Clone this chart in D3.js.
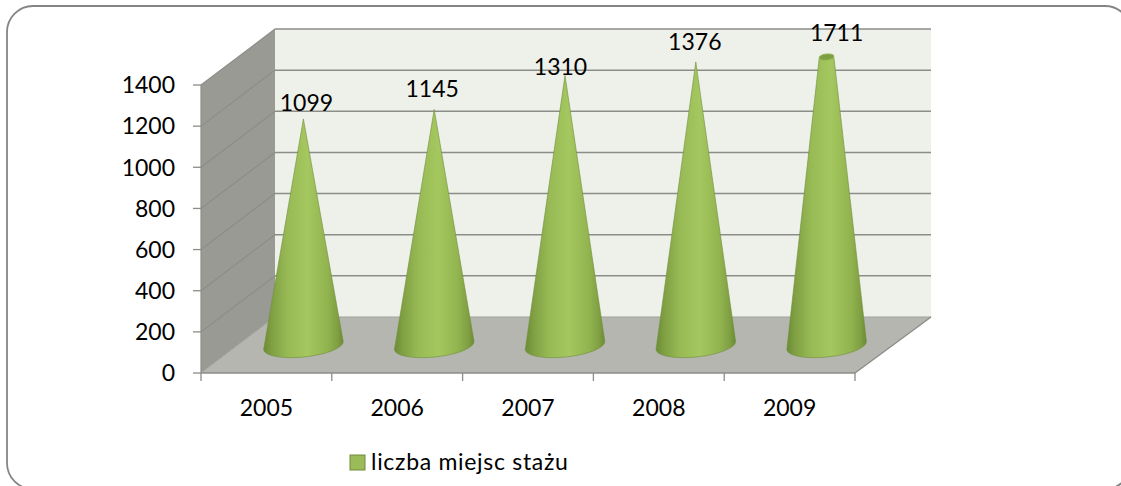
<!DOCTYPE html>
<html><head><meta charset="utf-8">
<script src="https://cdn.jsdelivr.net/npm/d3@7/dist/d3.min.js"></script>
<style>html,body{margin:0;padding:0;background:#fff;overflow:hidden}svg{display:block}text{font-family:Lato,"Open Sans",sans-serif;fill:#000}</style>
</head><body><svg id="c" width="1121" height="486"></svg>
<script>
const categories = ["2005","2006","2007","2008","2009"];
const values = [1099,1145,1310,1376,1711];
const yTicks = [0,200,400,600,800,1000,1200,1400];
const seriesName = "liczba miejsc stażu";

const svg = d3.select("#c");
const fs=23;
const plotLeft=201,plotRight=855,plotBottom=373,plotTop=85,dx=74,dy=-56;
const x=d3.scaleBand().domain(categories).range([plotLeft,plotRight]);
const y=d3.scaleLinear().domain([0,1400]).range([plotBottom,plotTop]);
const wallC="#eef0ea",sideC="#989a93",floorC="#b4b6af",lineC="#8c8d88";
const backL=plotLeft+dx,backR=931;
const defs=svg.append("defs");
const g=defs.append("linearGradient").attr("id","cone").attr("x1",0).attr("x2",1).attr("y1",0).attr("y2",0);
[[0,"#6c8c36"],[.1,"#7f9f42"],[.3,"#98ba55"],[.55,"#a4c75f"],[.8,"#92b44f"],[.93,"#7f9f42"],[1,"#6c8c36"]].forEach(s=>g.append("stop").attr("offset",s[0]).attr("stop-color",s[1]));

svg.append("rect").attr("x",7).attr("y",6).attr("width",1124).attr("height",483).attr("rx",26).attr("fill","#fff").attr("stroke","#858585").attr("stroke-width",1.8);

const poly=(pts,f)=>svg.append("polygon").attr("points",pts.map(p=>p.join(",")).join(" ")).attr("fill",f);
poly([[backL,y(1400)+dy],[backR,y(1400)+dy],[backR,y(0)+dy],[backL,y(0)+dy]],wallC);
poly([[plotLeft,y(1400)],[backL,y(1400)+dy],[backL,y(0)+dy],[plotLeft,y(0)]],sideC);
poly([[plotLeft,y(0)],[backL,y(0)+dy],[backR,y(0)+dy],[plotRight,y(0)]],floorC);
yTicks.forEach(t=>{
  if(t>0){
    svg.append("line").attr("x1",backL).attr("x2",backR).attr("y1",y(t)+dy).attr("y2",y(t)+dy).attr("stroke",lineC).attr("stroke-width",1.5);
    svg.append("line").attr("x1",plotLeft).attr("x2",backL).attr("y1",y(t)).attr("y2",y(t)+dy).attr("stroke",lineC).attr("stroke-width",1.2);
  }
  svg.append("line").attr("x1",plotLeft-8).attr("x2",plotLeft).attr("y1",y(t)).attr("y2",y(t)).attr("stroke",lineC).attr("stroke-width",1.3);
  svg.append("text").attr("x",plotLeft-26).attr("y",y(t)).attr("dy","0.36em").attr("text-anchor","end").attr("font-size",fs).text(t);
});
svg.append("line").attr("x1",backL).attr("x2",backR).attr("y1",y(0)+dy).attr("y2",y(0)+dy).attr("stroke","#a0a19b").attr("stroke-width",1.2);
svg.append("line").attr("x1",backR).attr("x2",plotRight).attr("y1",y(0)+dy).attr("y2",y(0)).attr("stroke",lineC).attr("stroke-width",1.4);
svg.append("line").attr("x1",plotLeft).attr("x2",backL).attr("y1",y(0)).attr("y2",y(0)+dy).attr("stroke","#a6a7a1").attr("stroke-width",1);
svg.append("line").attr("x1",plotLeft).attr("x2",plotLeft).attr("y1",y(1400)).attr("y2",y(0)).attr("stroke",lineC).attr("stroke-width",1.2);
svg.append("line").attr("x1",plotLeft).attr("x2",plotRight).attr("y1",y(0)).attr("y2",y(0)).attr("stroke",lineC).attr("stroke-width",1.6);
d3.range(6).forEach(i=>{const xx=plotLeft+i*x.step();
  svg.append("line").attr("x1",xx).attr("x2",xx).attr("y1",y(0)).attr("y2",y(0)+8).attr("stroke",lineC).attr("stroke-width",1.3);});
categories.forEach(c=>svg.append("text").attr("x",x(c)+x.bandwidth()/2).attr("y",416).attr("text-anchor","middle").attr("font-size",fs).text(c));

const rx=40,ry=11.5,rot=-6,cy=y(0)+dy/2+0.5;
const rad=rot*Math.PI/180;
const labelOffset={ "2005":[3,-8], "2006":[-2,-12], "2007":[-4.5,-1], "2008":[-1,-12], "2009":[10,-16] };
values.forEach((v,i)=>{
  const c=categories[i];
  const cx=x(c)+x.bandwidth()/2+dx/2;
  const clipV=Math.min(v,1400);
  const topY=y(clipV)+dy/2;
  const topR=rx*(1-clipV/v);
  const L=[cx-rx*Math.cos(rad),cy-rx*Math.sin(rad)];
  const R=[cx+rx*Math.cos(rad),cy+rx*Math.sin(rad)];
  const group=svg.append("g");
  const d=v>1400
    ? `M${L} L${cx-topR},${topY} L${cx+topR},${topY} L${R} A${rx},${ry} ${rot} 0 1 ${L} Z`
    : `M${L} L${cx},${topY} L${R} A${rx},${ry} ${rot} 0 1 ${L} Z`;
  group.append("path").attr("d",d).attr("fill","url(#cone)").attr("stroke","#6f8e3a").attr("stroke-width",.6);
  if(v>1400){
    group.append("ellipse").attr("cx",cx).attr("cy",topY).attr("rx",topR).attr("ry",3).attr("transform",`rotate(${rot} ${cx} ${topY})`).attr("fill","#7f9f44").attr("stroke","#93b552").attr("stroke-width",1);
  }
  const o=labelOffset[c];
  svg.append("text").attr("x",cx+o[0]).attr("y",topY+o[1]).attr("text-anchor","middle").attr("font-size",fs).text(v);
});

svg.append("rect").attr("x",350).attr("y",455).attr("width",15).attr("height",15).attr("fill","#9bbb59").attr("stroke","#71893f").attr("stroke-width",1);
svg.append("text").attr("x",371).attr("y",470).attr("font-size",fs).attr("letter-spacing",0.7).text(seriesName);
</script></body></html>
